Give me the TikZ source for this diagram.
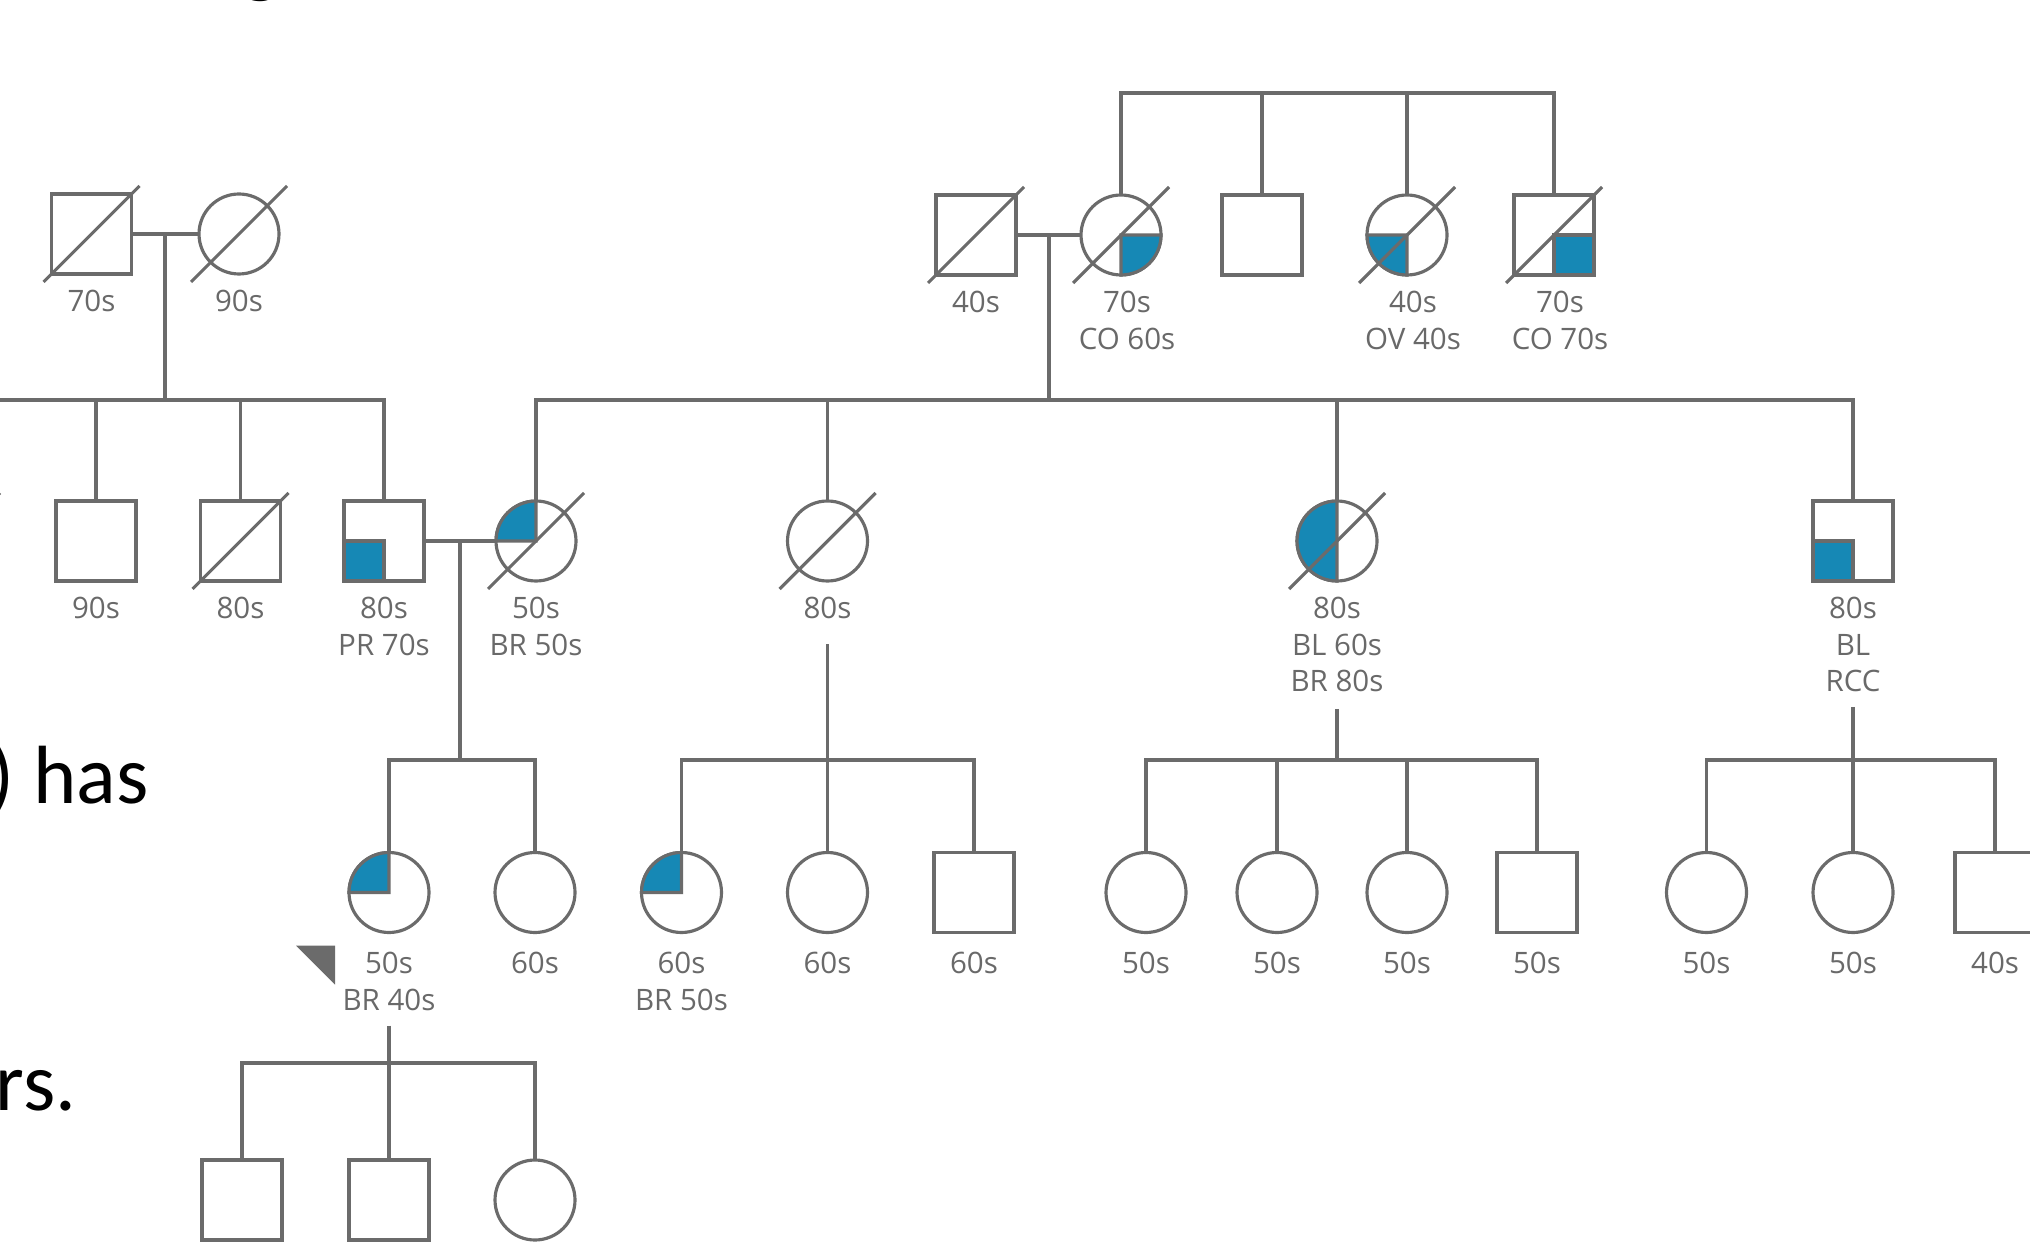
\documentclass[tikz,border=0pt]{standalone}
\usepackage{fontspec}
\newfontfamily\pedfont{Open Sans}
\newfontfamily\slidefont{Carlito}
\usetikzlibrary{positioning}
\definecolor{lgray}{RGB}{107,107,107}
\definecolor{tgray}{RGB}{105,105,105}
\definecolor{affblue}{RGB}{22,136,181}

\begin{document}
\begin{tikzpicture}[
      node distance=1.5mm,
      kin/.style={draw=lgray, line width=0.9pt},
      male/.style={rectangle, kin, fill=white, minimum size=8mm, inner sep=0pt, outer sep=0pt},
      female/.style={circle, kin, fill=white, minimum size=8mm, inner sep=0pt, outer sep=0pt},
      age/.style={align=center, text=tgray, inner sep=0pt, font=\pedfont\fontsize{8.4}{10.5}\selectfont},
      aff/.style={kin, fill=affblue},
      slide/.style={inner sep=0pt, font=\slidefont\fontsize{23.5}{28}\selectfont}
    ]
      \useasboundingbox (0,0) rectangle (20.30,-12.45);
      \clip (0,0) rectangle (20.30,-12.45);

% Slide text
      \node[slide, anchor=base] (txtg) at (2.61,0.12) {g};
      \node[slide, anchor=base west] (txthas) at (-0.11,-8.03) {) has};
      \node[slide, anchor=base east] (txtrs) at (0.77,-11.10) {rs.};

% Generation I
      \node[male] (gIa) at (0.915,-2.34) {};
      \node[female] (gIb) at (2.39,-2.34) {};
      \node[male] (gIc) at (9.76,-2.35) {};
      \node[female] (gId) at (11.21,-2.35) {};
      \node[male] (gIe) at (12.62,-2.35) {};
      \node[female] (gIf) at (14.07,-2.35) {};
      \node[male] (gIg) at (15.54,-2.35) {};
      \node[age, below=of gIa] (gIat) {70s};
      \node[age, below=of gIb] (gIbt) {90s};
      \node[age, below=of gIc] (gIct) {40s};
      \node[age, below=of gId, xshift=0.6mm] (gIdt) {70s\\CO 60s};
      \node[age, below=of gIf, xshift=0.6mm] (gIft) {40s\\OV 40s};
      \node[age, below=of gIg, xshift=0.6mm] (gIgt) {70s\\CO 70s};

% Generation II
      \node[male] (gIIo) at (-0.48,-5.41) {};
      \node[male] (gIIa) at (0.96,-5.41) {};
      \node[male] (gIIb) at (2.405,-5.41) {};
      \node[male] (gIIc) at (3.84,-5.41) {};
      \node[female] (gIId) at (5.36,-5.41) {};
      \node[female] (gIIe) at (8.275,-5.41) {};
      \node[female] (gIIf) at (13.37,-5.41) {};
      \node[male] (gIIg) at (18.53,-5.41) {};
      \node[age, below=of gIIa] (gIIat) {90s};
      \node[age, below=of gIIb] (gIIbt) {80s};
      \node[age, below=of gIIc] (gIIct) {80s\\PR 70s};
      \node[age, below=of gIId] (gIIdt) {50s\\BR 50s};
      \node[age, below=of gIIe] (gIIet) {80s};
      \node[age, below=of gIIf] (gIIft) {80s\\BL 60s\\BR 80s};
      \node[age, below=of gIIg] (gIIgt) {80s\\BL\\RCC};

% Generation III
      \node[female] (gIIIa) at (3.89,-8.925) {};
      \node[female] (gIIIb) at (5.35,-8.925) {};
      \node[female] (gIIIc) at (6.815,-8.925) {};
      \node[female] (gIIId) at (8.275,-8.925) {};
      \node[male] (gIIIe) at (9.74,-8.925) {};
      \node[female] (gIIIf) at (11.46,-8.925) {};
      \node[female] (gIIIg) at (12.77,-8.925) {};
      \node[female] (gIIIh) at (14.07,-8.925) {};
      \node[male] (gIIIi) at (15.37,-8.925) {};
      \node[female] (gIIIj) at (17.065,-8.925) {};
      \node[female] (gIIIk) at (18.53,-8.925) {};
      \node[male] (gIIIl) at (19.95,-8.925) {};
      \node[age, below=1.9mm of gIIIa] (gIIIat) {50s\\BR 40s};
      \node[age, below=1.9mm of gIIIb] (gIIIbt) {60s};
      \node[age, below=1.9mm of gIIIc] (gIIIct) {60s\\BR 50s};
      \node[age, below=1.9mm of gIIId] (gIIIdt) {60s};
      \node[age, below=1.9mm of gIIIe] (gIIIet) {60s};
      \node[age, below=1.9mm of gIIIf] (gIIIft) {50s};
      \node[age, below=1.9mm of gIIIg] (gIIIgt) {50s};
      \node[age, below=1.9mm of gIIIh] (gIIIht) {50s};
      \node[age, below=1.9mm of gIIIi] (gIIIit) {50s};
      \node[age, below=1.9mm of gIIIj] (gIIIjt) {50s};
      \node[age, below=1.9mm of gIIIk] (gIIIkt) {50s};
      \node[age, below=1.9mm of gIIIl] (gIIIlt) {40s};

% Generation IV
      \node[male] (gIVa) at (2.42,-12.00) {};
      \node[male] (gIVb) at (3.89,-12.00) {};
      \node[female] (gIVc) at (5.35,-12.00) {};

% Junctions
      \coordinate (cpL) at (1.65,-2.34);
      \coordinate (sbL) at (1.65,-4.00);
      \coordinate (cpR) at (10.49,-2.35);
      \coordinate (sbR) at (10.49,-4.00);
      \coordinate (sbT) at (13.38,-0.93);
      \coordinate (cpA) at (4.60,-5.41);
      \coordinate (sbA) at (4.60,-7.60);
      \coordinate (sbB) at (8.275,-7.60);
      \coordinate (sbC) at (13.37,-7.60);
      \coordinate (sbD) at (18.53,-7.60);
      \coordinate (sbE) at (3.89,-10.63);

% Connections
      \draw[kin] (gIa) -- (gIb);
      \draw[kin] (cpL) -- (sbL);
      \draw[kin] (gIIo.north) |- (sbL) -| (gIIc.north);
      \foreach \n in {gIIa,gIIb}
        \draw[kin] (\n.north) -- (\n.north |- sbL);

      \draw[kin] (gId.north) |- (sbT) -| (gIg.north);
      \foreach \n in {gIe,gIf}
        \draw[kin] (\n.north) -- (\n.north |- sbT);

      \draw[kin] (gIc) -- (gId);
      \draw[kin] (cpR) -- (sbR);
      \draw[kin] (gIId.north) |- (sbR) -| (gIIg.north);
      \foreach \n in {gIIe,gIIf}
        \draw[kin] (\n.north) -- (\n.north |- sbR);

      \draw[kin] (gIIc) -- (gIId);
      \draw[kin] (cpA) -- (sbA);
      \draw[kin] (gIIIa.north) |- (sbA) -| (gIIIb.north);

      \draw[kin] ([yshift=-2.5mm]gIIet.south) -- (sbB);
      \draw[kin] (gIIIc.north) |- (sbB) -| (gIIIe.north);
      \draw[kin] (gIIId.north) -- (sbB);

      \draw[kin] ([yshift=-1.6mm]gIIft.south) -- (sbC);
      \draw[kin] (gIIIf.north) |- (sbC) -| (gIIIi.north);
      \foreach \n in {gIIIg,gIIIh}
        \draw[kin] (\n.north) -- (\n.north |- sbC);

      \draw[kin] ([yshift=-1.4mm]gIIgt.south) -- (sbD);
      \draw[kin] (gIIIj.north) |- (sbD) -| (gIIIl.north);
      \draw[kin] (gIIIk.north) -- (sbD);

      \draw[kin] ([yshift=-1.4mm]gIIIat.south) -- (sbE);
      \draw[kin] (gIVa.north) |- (sbE) -| (gIVc.north);
      \draw[kin] (gIVb.north) -- (sbE);

% Affected
      \filldraw[aff] (gId.center) -- (gId.east) arc[start angle=0, end angle=-90, radius=4mm] -- cycle;
      \filldraw[aff] (gIf.center) -- (gIf.west) arc[start angle=180, end angle=270, radius=4mm] -- cycle;
      \filldraw[aff] (gIg.south east) rectangle (gIg.center);
      \filldraw[aff] (gIIc.south west) rectangle (gIIc.center);
      \filldraw[aff] (gIId.center) -- (gIId.west) arc[start angle=180, end angle=90, radius=4mm] -- cycle;
      \filldraw[aff] (gIIf.north) arc[start angle=90, end angle=270, radius=4mm] -- cycle;
      \filldraw[aff] (gIIg.south west) rectangle (gIIg.center);
      \filldraw[aff] (gIIIa.center) -- (gIIIa.west) arc[start angle=180, end angle=90, radius=4mm] -- cycle;
      \filldraw[aff] (gIIIc.center) -- (gIIIc.west) arc[start angle=180, end angle=90, radius=4mm] -- cycle;

% Deceased
      \foreach \n in {gIa,gIb,gIc,gId,gIf,gIg,gIIo,gIIb,gIId,gIIe,gIIf}
        \draw[kin] (\n.center) ++(-0.48,-0.48) -- ++(0.96,0.96);

% Proband
      \fill[lgray] (gIIIa.center) ++(-0.93,-0.53) -- ++(0.39,0) -- ++(0,-0.39) -- cycle;

    \end{tikzpicture}
\end{document}
